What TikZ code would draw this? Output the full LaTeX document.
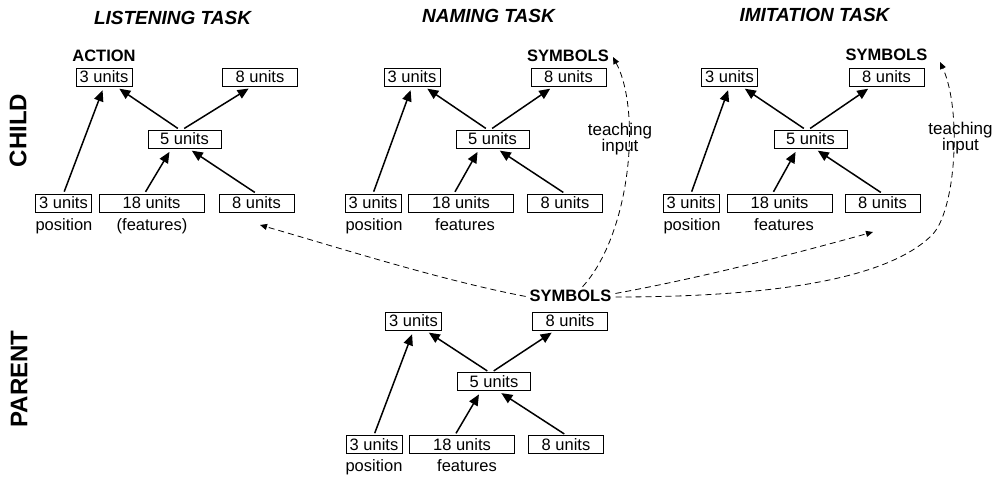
\documentclass[tikz,border=0pt]{standalone}
\usepackage{fontspec}
\setmainfont{Liberation Sans}
\usetikzlibrary{arrows.meta}
\newcommand\fs{\fontsize{16.5}{16}\selectfont}
\newcommand\ftitle{\fontsize{19}{20}\selectfont\bfseries\itshape}
\newcommand\fside{\fontsize{24}{24}\selectfont\bfseries}
\tikzset{
 ubox/.style={draw, line width=0.9pt, minimum height=18pt, inner sep=0pt, font=\fs},
 wthree/.style={ubox, minimum width=56pt},
 weight/.style={ubox, minimum width=75pt},
 wfive/.style={ubox, minimum width=73pt},
 weighteen/.style={ubox, minimum width=105pt},
 lbl/.style={font=\fs, inner sep=1pt, anchor=base},
 boldlbl/.style={font=\fs\bfseries, inner sep=1pt},
 ttl/.style={font=\ftitle, inner sep=0pt},
 side/.style={font=\fside, inner sep=0pt, rotate=90},
 teach/.style={font=\fontsize{17}{16}\selectfont, align=center, inner sep=0pt},
 arr/.style={-{Triangle[length=11pt,width=9.5pt]}, line width=1.5pt, shorten <=2pt, shorten >=4pt},
 dsh/.style={-{Triangle[length=7pt,width=6pt]}, line width=0.8pt, dash pattern=on 6pt off 4pt, shorten <=3pt}
}
\newcommand\netarrows[2]{%
 \draw[arr] (#1bthree.north) -- (#1tthree.south);
 \draw[arr] ([xshift=-5pt]#1mfive.north) -- ([xshift=12pt]#1tthree.south);
 \draw[arr] ([xshift=-2pt]#1mfive.north) -- ([xshift=#2pt]#1teight.south);
 \draw[arr] ([xshift=-7pt]#1beighteen.north) -- ([xshift=-13pt]#1mfive.south);
 \draw[arr] (#1beight.north) -- ([xshift=4pt]#1mfive.south);}
\begin{document}
\begin{tikzpicture}[x=1pt,y=-1pt]
\useasboundingbox (0,0) rectangle (999,479);
% titles
\node[ttl] (tL) at (172.5,17.5) {LISTENING TASK};
\node[ttl] (tN) at (488.5,16) {NAMING TASK};
\node[ttl] (tI) at (814.5,15) {IMITATION TASK};
\node[side] (child) at (18,130.5) {CHILD};
\node[side] (parent) at (19,379) {PARENT};
% listening
\node[boldlbl] (Lact) at (104,56) {ACTION};
\node[wthree] (Ltthree) at (104,77) {3 units};
\node[weight] (Lteight) at (260,77) {8 units};
\node[wfive] (Lmfive) at (184.5,139) {5 units};
\node[wthree] (Lbthree) at (63.5,203) {3 units};
\node[weighteen] (Lbeighteen) at (151.5,203) {18 units};
\node[weight] (Lbeight) at (256.5,203) {8 units};
\node[lbl] (Lpos) at (64,230) {position};
\node[lbl] (Lfeat) at (152,230) {(features)};
\netarrows{L}{-8}
% naming
\node[boldlbl] (Nsym) at (568,56) {SYMBOLS};
\node[wthree] (Ntthree) at (412,77) {3 units};
\node[weight] (Nteight) at (568.5,77) {8 units};
\node[wfive] (Nmfive) at (492.5,139) {5 units};
\node[wthree] (Nbthree) at (373,203) {3 units};
\node[weighteen] (Nbeighteen) at (461,203) {18 units};
\node[weight] (Nbeight) at (565,203) {8 units};
\node[lbl] (Npos) at (374,230) {position};
\node[lbl] (Nfeat) at (465,230) {features};
\netarrows{N}{-15}
\node[teach] (Nteach) at (620,139) {teaching\\input};
% imitation
\node[boldlbl] (Isym) at (886.5,55) {SYMBOLS};
\node[wthree] (Itthree) at (729.5,77) {3 units};
\node[weight] (Iteight) at (886.5,77) {8 units};
\node[wfive] (Imfive) at (810.5,139) {5 units};
\node[wthree] (Ibthree) at (691,203) {3 units};
\node[weighteen] (Ibeighteen) at (779.5,203) {18 units};
\node[weight] (Ibeight) at (882.5,203) {8 units};
\node[lbl] (Ipos) at (692,230) {position};
\node[lbl] (Ifeat) at (784,230) {features};
\netarrows{I}{-15}
\node[teach] (Iteach) at (960.5,138) {teaching\\input};
% parent
\node[boldlbl] (Psym) at (570.5,296) {SYMBOLS};
\node[wthree] (Ptthree) at (413.5,321) {3 units};
\node[weight] (Pteight) at (570,321) {8 units};
\node[wfive] (Pmfive) at (494,381.5) {5 units};
\node[wthree] (Pbthree) at (374,444.5) {3 units};
\node[weighteen] (Pbeighteen) at (462,444.5) {18 units};
\node[weight] (Pbeight) at (566,444.5) {8 units};
\node[lbl] (Ppos) at (374,471.5) {position};
\node[lbl] (Pfeat) at (467,471.5) {features};
\netarrows{P}{-15}
% dashed teaching connectors
\coordinate (tipL) at (260,225);
\coordinate (tipN) at (613,57);
\coordinate (tipIb) at (873,232);
\coordinate (tipIs) at (940,62);
\draw[dsh] ([yshift=-1pt]Psym.west) .. controls (440,280) and (340,248) .. (tipL);
\draw[dsh] ([xshift=10pt]Psym.north) .. controls (630,235) and (642,112) .. (tipN);
\draw[dsh] ([yshift=2pt]Psym.east) .. controls (700,278) and (790,255) .. (tipIb);
\draw[dsh] ([yshift=-1pt]Psym.east) .. controls (760,297) and (885,282) .. (932,235) .. controls (956,211) and (962,110) .. (tipIs);
\end{tikzpicture}
\end{document}
